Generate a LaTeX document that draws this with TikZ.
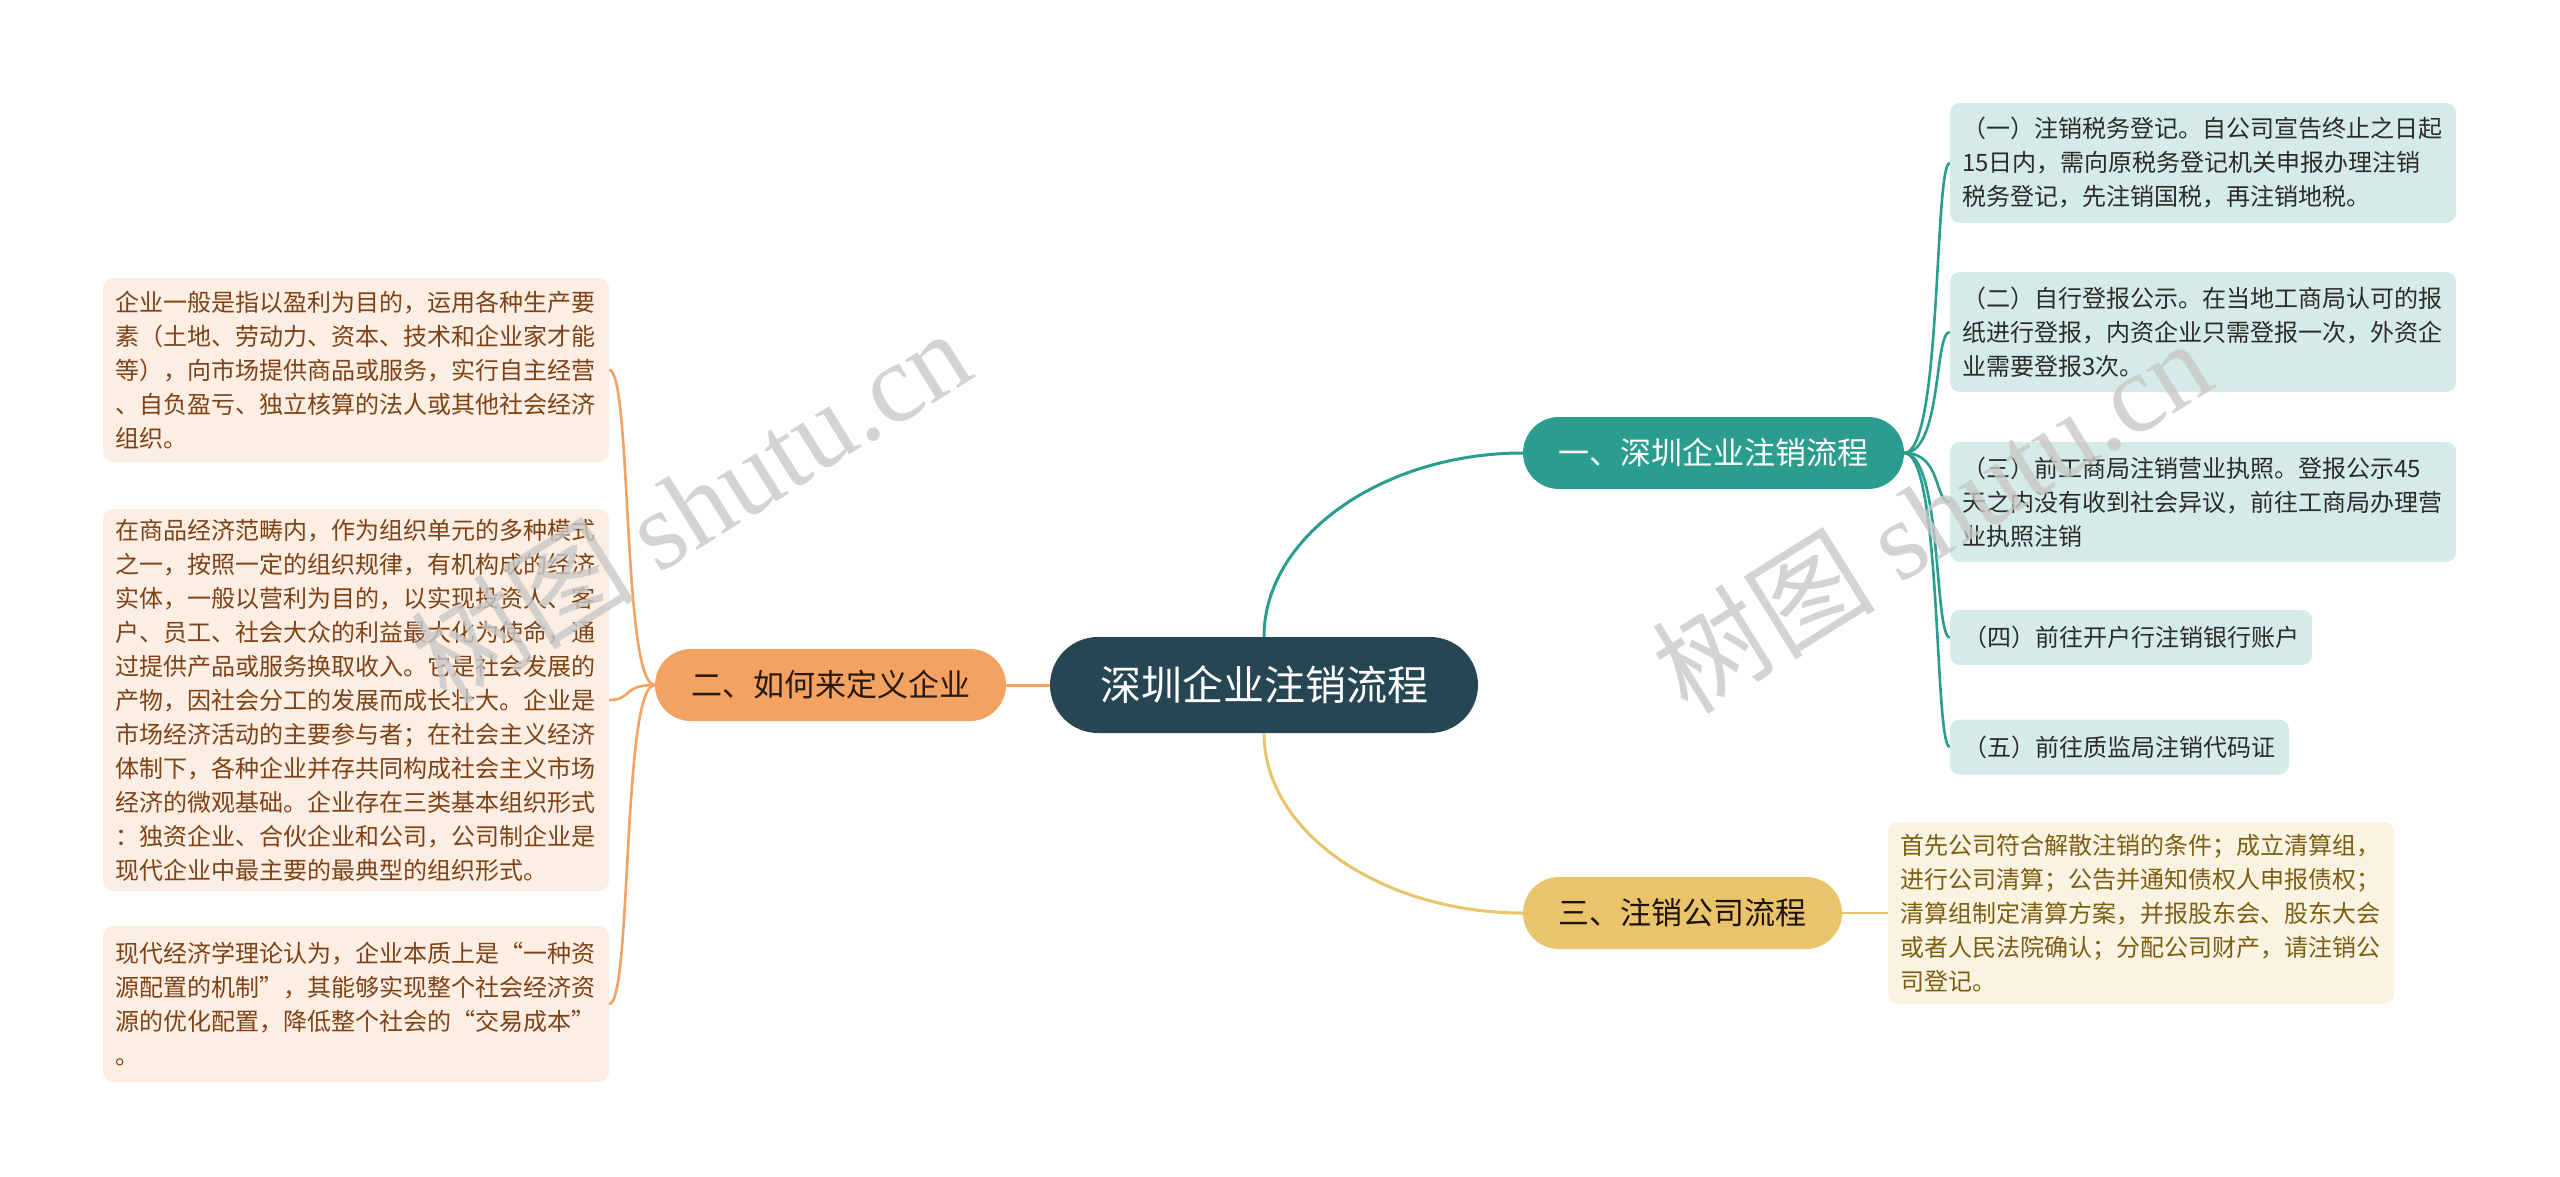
\documentclass[tikz,border=0pt]{standalone}
\usepackage{fontspec}
\setmainfont{Noto Sans CJK SC}
\newfontfamily\wmserif{Liberation Serif}
\definecolor{rootc}{HTML}{264653}
\definecolor{tealc}{HTML}{2A9D8F}
\definecolor{orangec}{HTML}{F4A261}
\definecolor{yellowc}{HTML}{E9C46A}
\definecolor{leafTc}{HTML}{D5EBE8}
\definecolor{leafOc}{HTML}{FDEEE3}
\definecolor{leafYc}{HTML}{FBF3E1}
\definecolor{textO}{HTML}{7F4216}
\definecolor{textY}{HTML}{7D5F14}
\definecolor{textT}{HTML}{2B2B2B}
\definecolor{wmc}{HTML}{C8C8C8}
\tikzset{
  rootbox/.style={fill=rootc, rounded corners=48pt, minimum width=428pt, minimum height=96pt,
    inner sep=0pt, text=white, font=\fontsize{41}{41}\selectfont},
  branchbox/.style={rounded corners=36pt, minimum height=72pt, inner sep=0pt,
    font=\fontsize{31}{31}\selectfont},
  leafbox/.style={rounded corners=10pt, inner xsep=12pt, inner ysep=0pt, align=left,
    text width=482pt, font=\fontsize{24}{34}\selectfont},
  shortleaf/.style={rounded corners=10pt, inner sep=0pt, minimum height=55pt,
    font=\fontsize{24}{34}\selectfont},
  tleaf/.style={fill=leafTc, text=textT},
  oleaf/.style={fill=leafOc, text=textO},
  yleaf/.style={fill=leafYc, text=textY},
  tline/.style={draw=tealc, line width=3pt},
  oline/.style={draw=orangec, line width=3pt},
  yline/.style={draw=yellowc, line width=3pt},
  wmark/.style={text=wmc, opacity=0.8, font=\fontsize{112}{112}\selectfont, inner sep=0pt}
}
\begin{document}
\begin{tikzpicture}[x=1pt,y=-1pt]
\fill[white] (0,0) rectangle (2560,1177);
\useasboundingbox (0,0) rectangle (2560,1177);

% central and main branches
\node[rootbox] (root) at (1264,685) {深圳企业注销流程};
\node[branchbox, fill=tealc, text=white, minimum width=381pt] (b1) at (1713.5,453) {一、深圳企业注销流程};
\node[branchbox, fill=orangec, text={black!80!brown}, minimum width=351pt] (b2) at (830.5,685) {二、如何来定义企业};
\node[branchbox, fill=yellowc, text={black!85!brown}, minimum width=319pt] (b3) at (1682.5,913) {三、注销公司流程};

% right leaves
\node[leafbox, tleaf, minimum height=120pt] (l1) at (2203,163)
  {（一）注销税务登记。自公司宣告终止之日起\\15日内，需向原税务登记机关申报办理注销\\税务登记，先注销国税，再注销地税。};
\node[leafbox, tleaf, minimum height=120pt] (l2) at (2203,332)
  {（二）自行登报公示。在当地工商局认可的报\\纸进行登报，内资企业只需登报一次，外资企\\业需要登报3次。};
\node[leafbox, tleaf, minimum height=120pt] (l3) at (2203,502)
  {（三）前工商局注销营业执照。登报公示45\\天之内没有收到社会异议，前往工商局办理营\\业执照注销};
\node[shortleaf, tleaf, minimum width=362pt] (l4) at (2131,637.5) {（四）前往开户行注销银行账户};
\node[shortleaf, tleaf, minimum width=339pt] (l5) at (2119.5,747) {（五）前往质监局注销代码证};

% bottom right leaf
\node[leafbox, yleaf, minimum height=182pt] (y1) at (2141,913)
  {首先公司符合解散注销的条件；成立清算组，\\进行公司清算；公告并通知债权人申报债权；\\清算组制定清算方案，并报股东会、股东大会\\或者人民法院确认；分配公司财产，请注销公\\司登记。};

% left leaves
\node[leafbox, oleaf, minimum height=184pt] (o1) at (356,370)
  {企业一般是指以盈利为目的，运用各种生产要\\素（土地、劳动力、资本、技术和企业家才能\\等），向市场提供商品或服务，实行自主经营\\、自负盈亏、独立核算的法人或其他社会经济\\组织。};
\node[leafbox, oleaf, minimum height=382pt] (o2) at (356,700)
  {在商品经济范畴内，作为组织单元的多种模式\\之一，按照一定的组织规律，有机构成的经济\\实体，一般以营利为目的，以实现投资人、客\\户、员工、社会大众的利益最大化为使命，通\\过提供产品或服务换取收入。它是社会发展的\\产物，因社会分工的发展而成长壮大。企业是\\市场经济活动的主要参与者；在社会主义经济\\体制下，各种企业并存共同构成社会主义市场\\经济的微观基础。企业存在三类基本组织形式\\：独资企业、合伙企业和公司，公司制企业是\\现代企业中最主要的最典型的组织形式。};
\node[leafbox, oleaf, minimum height=156pt] (o3) at (356,1004)
  {现代经济学理论认为，企业本质上是“一种资\\源配置的机制”，其能够实现整个社会经济资\\源的优化配置，降低整个社会的“交易成本”\\。};

% connectors from root
\draw[tline] (root.north) .. controls (1264,536) and (1383,453) .. (b1.west);
\draw[yline] (root.south) .. controls (1264,833) and (1383,913) .. (b3.west);
\draw[oline] (root.west) -- (b2.east);

% connectors branch 1 -> leaves
\foreach \n/\cy in {l1/163, l2/332, l3/502, l4/637.5, l5/747}{
  \draw[tline, line width=2.6pt] (b1.east) .. controls (1942,453) and (1934,\cy) .. (\n.west);
}
% branch 3 -> leaf
\draw[yline, line width=2.6pt] (b3.east) -- (y1.west);
% branch 2 -> leaves
\foreach \n/\cy in {o1/370, o2/700, o3/1004}{
  \draw[oline, line width=2.6pt] (b2.west) .. controls (622,685) and (632,\cy) .. (\n.east);
}

% watermarks
\node[wmark, rotate=32] (wm1) at (690,505) {树图 {\wmserif shutu.cn}};
\node[wmark, rotate=32] (wm2) at (1931,515) {树图 {\wmserif shutu.cn}};
\end{tikzpicture}
\end{document}
